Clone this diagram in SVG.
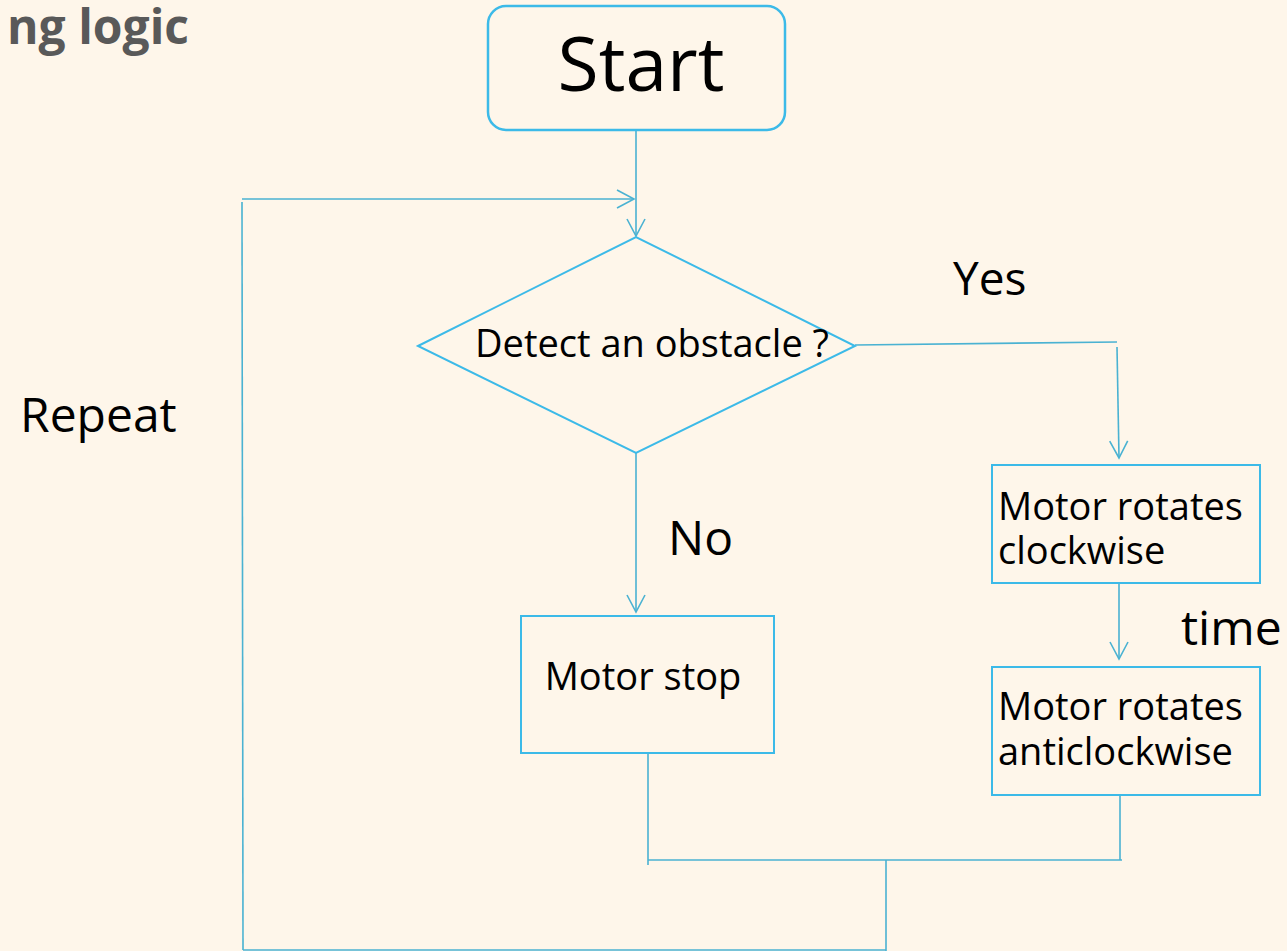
<svg xmlns="http://www.w3.org/2000/svg" width="1287" height="951" viewBox="0 0 1287 951">
<style>
.bg{fill:#FEF6EA}
.node{fill:none;stroke:#3CBAE8;stroke-width:2}
.start{fill:none;stroke:#3CBAE8;stroke-width:2.5}
.c{fill:none;stroke:#4AB2D2;stroke-width:1.6}
.t{font-family:"Open Sans","Noto Sans","Liberation Sans",sans-serif;fill:#000}
.title{font-family:"Open Sans","Noto Sans","Liberation Sans",sans-serif;font-weight:bold;fill:#595959}
</style>
<defs>
<marker id="arr" viewBox="0 0 20 20" refX="18" refY="10" markerWidth="20" markerHeight="20" markerUnits="userSpaceOnUse" orient="auto">
<path d="M1,1 L18,10 L1,19" fill="none" stroke="#4AB2D2" stroke-width="1.6"/>
</marker>
</defs>
<rect class="bg" x="0" y="0" width="1287" height="951"/>
<text class="title" x="189" y="44" font-size="48" text-anchor="end">ng logic</text>
<text class="t" x="20" y="432" font-size="48">Repeat</text>
<text class="t" x="953" y="295" font-size="46">Yes</text>
<text class="t" x="668" y="555" font-size="48">No</text>
<text class="t" x="1181" y="645" font-size="48">time</text>
<g id="connectors">
<line class="c" x1="636" y1="130" x2="636" y2="236" marker-end="url(#arr)"/>
<line class="c" x1="242" y1="199" x2="634" y2="199" marker-end="url(#arr)"/>
<line class="c" x1="242" y1="202" x2="243" y2="950"/>
<line class="c" x1="243" y1="950" x2="886" y2="950"/>
<line class="c" x1="855" y1="345" x2="1117" y2="342"/>
<line class="c" x1="1117" y1="347" x2="1119" y2="458" marker-end="url(#arr)"/>
<line class="c" x1="636" y1="453" x2="636" y2="612" marker-end="url(#arr)"/>
<line class="c" x1="1119" y1="584" x2="1119" y2="659" marker-end="url(#arr)"/>
<line class="c" x1="648" y1="753" x2="648" y2="865"/>
<line class="c" x1="1120" y1="795" x2="1120" y2="860"/>
<line class="c" x1="648" y1="860" x2="1122" y2="860"/>
<line class="c" x1="886" y1="860" x2="886" y2="951"/>
</g>
<g id="start">
<rect class="start" x="488" y="6" width="297" height="124" rx="18"/>
<text class="t" x="641" y="91" font-size="75" text-anchor="middle">Start</text>
</g>
<g id="decision">
<polygon class="node" points="418,346 636,237 855,346 636,453"/>
<text class="t" x="652" y="357" font-size="38" text-anchor="middle">Detect an obstacle ?</text>
</g>
<g id="motor-stop">
<rect class="node" x="521" y="616" width="253" height="137"/>
<text class="t" x="643" y="690" font-size="38" text-anchor="middle">Motor stop</text>
</g>
<g id="motor-cw">
<rect class="node" x="992" y="465" width="268" height="118"/>
<text class="t" font-size="38"><tspan x="998" y="520">Motor rotates</tspan><tspan x="998" y="564">clockwise</tspan></text>
</g>
<g id="motor-acw">
<rect class="node" x="992" y="667" width="268" height="128"/>
<text class="t" font-size="38"><tspan x="998" y="720">Motor rotates</tspan><tspan x="998" y="765">anticlockwise</tspan></text>
</g>
</svg>
